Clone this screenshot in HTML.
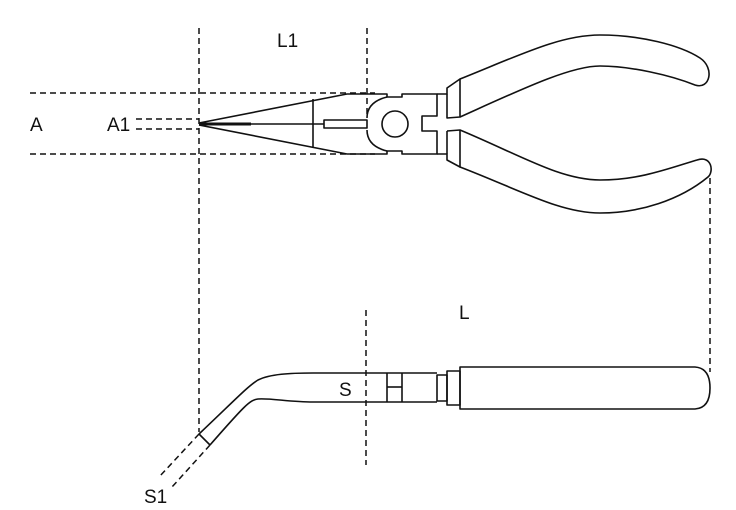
<!DOCTYPE html>
<html><head><style>
body{margin:0;background:#fff;}
svg{display:block;}
text{font-family:"Liberation Sans",sans-serif;font-size:19px;fill:#111;}
</style></head><body>
<svg width="736" height="510" viewBox="0 0 736 510" xmlns="http://www.w3.org/2000/svg">
<g stroke="#111" stroke-width="1.5" fill="none" stroke-dasharray="6,4">
<line x1="199" y1="28" x2="199" y2="432"/>
<line x1="367" y1="28" x2="367" y2="118"/>
<line x1="30" y1="93" x2="375" y2="93"/>
<line x1="30" y1="154" x2="375" y2="154"/>
<line x1="136" y1="119" x2="199" y2="119"/>
<line x1="136" y1="129" x2="199" y2="129"/>
<line x1="710" y1="178" x2="710" y2="372"/>
<line x1="366" y1="310" x2="366" y2="465"/>
<line x1="199" y1="434" x2="160" y2="476"/>
<line x1="210" y1="445" x2="172" y2="487"/>
</g>
<g stroke="#111" stroke-width="1.6" fill="none" stroke-linejoin="round">
<path d="M199,123 L347,94 L387,94 L387,97 L402,97 L402,94 L437,94 L437,116 L422,116 L422,131 L437,131 L437,154 L402,154 L402,151 L387,151 L387,154 L347,154 L199,125"/>
<path d="M387,97 Q367,102 367,118"/>
<path d="M387,151 Q367,146 367,130"/>
<line x1="313" y1="99" x2="313" y2="148"/>
<rect x="324" y="120" width="43" height="8"/>
<line x1="199" y1="124" x2="251" y2="124" stroke-width="3"/>
<line x1="251" y1="124" x2="324" y2="124"/>
<circle cx="395" cy="124" r="13"/>
<path d="M437,94 L447,94 L447,88 L460,79 L460,117 L447,118 L447,116"/>
<path d="M437,154 L447,154 L447,160 L460,167 L460,130 L447,131"/>
<line x1="447" y1="94" x2="447" y2="116"/>
<line x1="447" y1="131" x2="447" y2="154"/>
<path d="M460,79 C520,55 560,35 600,35 C640,35 680,45 700,58 C715,68 710,90 695,85 C670,75 630,66 600,66 C570,66 520,90 460,117"/>
<path d="M460,130 C520,155 560,180 600,180 C640,180 670,168 697,160 C712,155 714,172 708,177 C680,200 640,213 600,213 C560,213 520,190 460,167"/>
<path d="M460,367 L695,367 Q710,368 710,388 Q710,408 695,409 L460,409 Z"/>
<rect x="447" y="371" width="13" height="34"/>
<rect x="437" y="375" width="10" height="26"/>
<path d="M437,373 L313,373 C290,373 270,374 258,380 C248,386 235,400 199,434"/>
<path d="M437,402 L313,402 C290,402 270,398 258,399 C250,400 245,405 210,445"/>
<line x1="199" y1="434" x2="210" y2="445"/>
<line x1="387" y1="373" x2="387" y2="402"/>
<line x1="402" y1="373" x2="402" y2="402"/>
<line x1="387" y1="387" x2="402" y2="387"/>
</g>
<text x="277" y="47">L1</text>
<text x="30" y="131">A</text>
<text x="107" y="131">A1</text>
<text x="459" y="319">L</text>
<text x="339" y="396">S</text>
<text x="144" y="503">S1</text>
</svg>
</body></html>
